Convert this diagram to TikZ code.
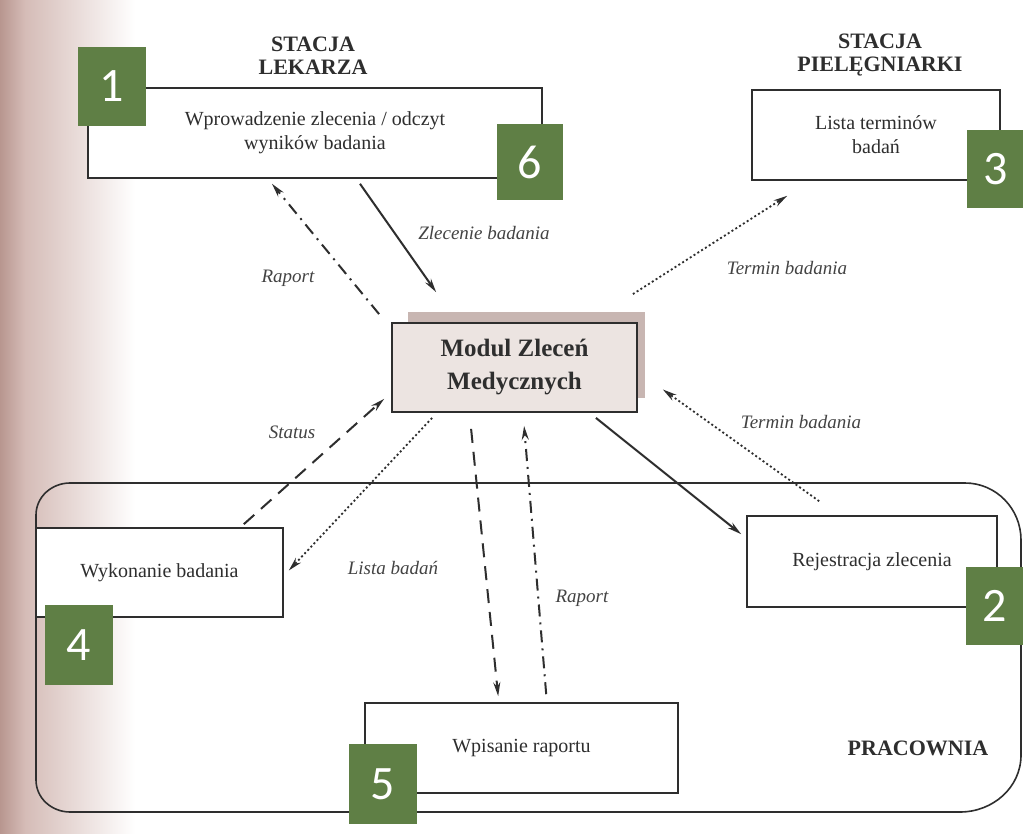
\documentclass[tikz,border=0pt]{standalone}
\usepackage{fontspec}
\setmainfont{Liberation Serif}
\newfontfamily\numfont{Carlito}
\usetikzlibrary{arrows.meta,calc}

\definecolor{ink}{HTML}{2E2E2E}
\definecolor{tagGreen}{HTML}{5F7F45}
\definecolor{modFill}{HTML}{ECE4E1}
\definecolor{modShadow}{HTML}{C8B6B2}
\definecolor{spineA}{HTML}{B8968F}
\definecolor{spineB}{HTML}{D5BCB7}

\tikzset{
  procbox/.style={draw=ink, line width=1.6pt, fill=white, align=center,
    inner sep=0pt, text=ink, font=\fontsize{20}{24}\selectfont},
  modbox/.style={draw=ink, line width=1.8pt, fill=modFill, align=center,
    inner sep=0pt, text=ink, font=\bfseries\fontsize{25}{33}\selectfont},
  title/.style={align=center, text=ink, font=\bfseries\fontsize{22}{23}\selectfont},
  flowlabel/.style={text=ink!90, font=\itshape\fontsize{19}{22}\selectfont},
  tag/.style={fill=tagGreen, text=white, inner sep=0pt, font=\numfont\fontsize{48}{48}\selectfont},
  tip/.style={-{Stealth[length=14pt,width=7pt]}},
  solidflow/.style={tip, draw=ink, line width=2pt},
  dashflow/.style={tip, draw=ink, line width=2pt, dash pattern=on 14pt off 9pt},
  dashdotflow/.style={tip, draw=ink, line width=2pt, dash pattern=on 12pt off 6pt on 2pt off 6pt},
  dotflow/.style={tip, draw=ink, line width=1.8pt, dash pattern=on 2pt off 2.5pt},
}

\begin{document}
\begin{tikzpicture}[x=1pt,y=-1pt]
  % page and shaded book spine on the left
  \useasboundingbox (0,0) rectangle (1023,834);
  \fill[white] (0,0) rectangle (1023,834);
  \shade[left color=spineA, right color=spineB] (0,0) rectangle (25,834);
  \shade[left color=spineB, right color=white] (25,0) rectangle (135,834);

  % laboratory area
  \draw[draw=ink, line width=1.6pt]
    (70,483) -- (965,483) to[out=0,in=90] (1021,540) -- (1021,755)
    to[out=-90,in=0] (960,812) -- (70,812) to[out=180,in=-90] (36,780)
    -- (36,515) to[out=90,in=180] (70,483) -- cycle;
  \node[title, anchor=center] (lab) at (918,748) {PRACOWNIA};

  % station titles
  \node[title] (docT) at (313,56) {STACJA\\LEKARZA};
  \node[title] (nurT) at (880,55) {STACJA\\PIELĘGNIARKI};

  % process boxes
  \node[procbox, minimum width=454pt, minimum height=90pt] (doc) at (315,133)
    {Wprowadzenie zlecenia / odczyt\\wyników badania};
  \node[procbox, minimum width=248pt, minimum height=90pt] (nur) at (876,135)
    {Lista terminów\\badań};
  \node[procbox, minimum width=247pt, minimum height=89pt] (exe) at (159.5,572.5)
    {Wykonanie badania};
  \node[procbox, minimum width=313pt, minimum height=90pt] (rep) at (521.5,748)
    {Wpisanie raportu};
  \node[procbox, minimum width=250pt, minimum height=91pt] (reg) at (872,561.5)
    {Rejestracja zlecenia};

  % central module with its shadow
  \coordinate (modc) at (514.5,367.5);
  \fill[modShadow] ($(modc)+(-106.5,-55.5)$) rectangle ($(modc)+(130.5,30.5)$);
  \node[modbox, minimum width=245pt, minimum height=89pt] (mod) at (modc)
    {Modul Zleceń\\Medycznych};

  % flows
  \draw[dashdotflow] ($(mod.north west)+(-12,-8)$) -- ($(doc.south)+(-43,5)$);
  \draw[solidflow] ($(doc.south)+(45,5)$) -- ($(mod.north west)+(45,-30)$);
  \draw[dotflow] ($(mod.north east)+(-5,-28)$) -- ($(nur.south west)+(36,15)$);
  \draw[dotflow] ($(reg.north west)+(73,-14)$) -- ($(mod.east)+(25,22)$);
  \draw[dashflow] ($(exe.north east)+(-40,-3)$) -- ($(mod.south west)+(-7,-14)$);
  \draw[dotflow] ($(mod.south west)+(41,5)$) -- ($(exe.east)+(5,-2)$);
  \draw[dashflow] ($(mod.south west)+(80,16)$) -- ($(rep.north west)+(134,-6)$);
  \draw[dashdotflow] ($(rep.north west)+(182,-8)$) -- ($(mod.south west)+(133,13)$);
  \draw[solidflow] ($(mod.south east)+(-42,5)$) -- ($(reg.north west)+(-5,19)$);

  % flow labels
  \node[flowlabel] (lRap1) at (288,278) {Raport};
  \node[flowlabel] (lZle) at (484,233) {Zlecenie badania};
  \node[flowlabel] (lTer1) at (787,268) {Termin badania};
  \node[flowlabel] (lTer2) at (801,422) {Termin badania};
  \node[flowlabel] (lSta) at (292,432) {Status};
  \node[flowlabel] (lLis) at (393,568) {Lista badań};
  \node[flowlabel] (lRap2) at (582,598) {Raport};

  % numbered markers
  \node[tag, minimum width=68pt, minimum height=79pt] (t1) at (112,86.5) {1};
  \node[tag, minimum width=66pt, minimum height=76pt] (t6) at (530,162) {6};
  \node[tag, minimum width=56pt, minimum height=78pt, anchor=north west] (t3) at (967,130) {3};
  \node[tag, minimum width=57pt, minimum height=78pt, anchor=north west] (t2) at (966,567) {2};
  \node[tag, minimum width=68pt, minimum height=80pt] (t4) at (79,645) {4};
  \node[tag, minimum width=68pt, minimum height=80pt] (t5) at (383,784) {5};
\end{tikzpicture}
\end{document}
